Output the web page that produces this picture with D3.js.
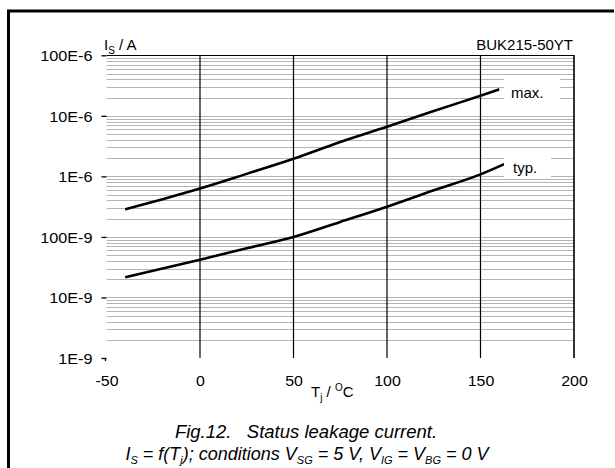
<!DOCTYPE html>
<html><head><meta charset="utf-8">
<script src="https://d3js.org/d3.v7.min.js"></script>
<style>body{margin:0;background:#fff}svg{display:block}text{font-family:"Liberation Sans",Arial,sans-serif}</style>
</head><body><svg id="c" width="615" height="468"></svg>
<script>
const xTicks = [-50, 0, 50, 100, 150, 200];
const yTicks = [1e-9, 1e-8, 1e-7, 1e-6, 1e-5, 1e-4];
const yTickLabels = ["1E-9", "10E-9", "100E-9", "1E-6", "10E-6", "100E-6"];
const maxT = [-40, -20, 0, 25, 50, 75, 100, 125, 150, 160];
const maxI = [2.85e-7, 4.2e-7, 6.3e-7, 1.1e-6, 1.95e-6, 3.7e-6, 6.6e-6, 1.2e-5, 2.15e-5, 2.74e-5];
const typT = [-40, -20, 0, 25, 50, 75, 100, 125, 150, 163];
const typI = [2.16e-8, 3.0e-8, 4.2e-8, 6.5e-8, 1.0e-7, 1.77e-7, 3.16e-7, 5.9e-7, 1.08e-6, 1.61e-6];
const seriesNames = ["max.", "typ."];

const FS = 14.5;
const svg = d3.select("#c");
const x = d3.scaleLinear().domain([-50, 200]).range([106.5, 574]);
const y = d3.scaleLog().domain([1e-9, 1e-4]).range([358, 55.3]);

// frame (left and top only)
svg.append("line").attr("x1", 8.5).attr("x2", 8.5).attr("y1", 10).attr("y2", 468).attr("stroke", "#000").attr("stroke-width", 3);
svg.append("line").attr("x1", 7).attr("x2", 614).attr("y1", 11).attr("y2", 11).attr("stroke", "#000").attr("stroke-width", 3);

// minor gray horizontal grid
const minor = [];
for (let e = -9; e < -4; e++) for (let m = 1; m <= 9; m++) { if (e === -9 && m === 1) continue; minor.push(m * Math.pow(10, e)); }
svg.append("g").selectAll("line").data(minor).join("line")
  .attr("x1", x(-50)).attr("x2", x(200))
  .attr("y1", d => Math.round(y(d)) + 0.5).attr("y2", d => Math.round(y(d)) + 0.5)
  .attr("stroke", "#b4b4b4").attr("stroke-width", 1);

// top border of plot
svg.append("line").attr("x1", x(-50)).attr("x2", x(200)).attr("y1", 55.5).attr("y2", 55.5).attr("stroke", "#000").attr("stroke-width", 1.2);

// vertical grid lines
svg.append("g").selectAll("line").data(xTicks.slice(1)).join("line")
  .attr("x1", d => x(d)).attr("x2", d => x(d)).attr("y1", 55).attr("y2", 358)
  .attr("stroke", "#000").attr("stroke-width", d => d === 200 ? 1.6 : 1.2);

// y axis ticks and labels
const yAxis = d3.axisLeft(y).tickValues(yTicks).tickSize(5).tickPadding(9)
  .tickFormat((d, i) => yTickLabels[i]);
const ga = svg.append("g").attr("transform", `translate(${x(-50)},0)`).call(yAxis);
ga.attr("font-size", null).attr("font-family", null);
ga.select(".domain").remove();
ga.selectAll(".tick line").attr("stroke", "#000").attr("stroke-width", 1.3);
ga.selectAll(".tick text").style("font-size", FS + "px").attr("fill", "#000").attr("dy", "0.36em")
  .attr("transform", "scale(1.12,1)").attr("x", -14 / 1.12);
// hook on 1E-9 tick
svg.append("line").attr("x1", x(-50) - 1).attr("x2", x(-50) - 1).attr("y1", 358).attr("y2", 361).attr("stroke", "#000").attr("stroke-width", 1.3);

// x tick labels
const xAxis = d3.axisBottom(x).tickValues(xTicks).tickSize(0).tickPadding(0).tickFormat(d => String(d));
const gx = svg.append("g").attr("transform", "translate(0,376)").call(xAxis);
gx.attr("font-size", null).attr("font-family", null);
gx.select(".domain").remove();
gx.selectAll(".tick text").style("font-size", FS + "px").attr("fill", "#000").attr("dy", "0.72em")
  .attr("transform", "scale(1.1,1)");

// axis titles
const xt = svg.append("text").attr("x", 311).attr("y", 397).style("font-size", "15px");
xt.append("tspan").text("T");
xt.append("tspan").style("font-size", "10px").attr("dy", 4).text("j");
xt.append("tspan").attr("dy", -4).text(" / ");
xt.append("tspan").style("font-size", "10px").attr("dy", -6).text("O");
xt.append("tspan").attr("dy", 6).text("C");

const yt = svg.append("text").attr("x", 104).attr("y", 50).style("font-size", "15px");
yt.append("tspan").text("I");
yt.append("tspan").style("font-size", "10px").attr("dy", 4).text("S");
yt.append("tspan").attr("dy", -4).text(" / A");

svg.append("text").attr("x", 573).attr("y", 50).attr("text-anchor", "end").style("font-size", "15px").text("BUK215-50YT");

// curves
const line = d3.line().x(d => x(d[0])).y(d => y(d[1])).curve(d3.curveMonotoneX);
const series = [d3.zip(maxT, maxI), d3.zip(typT, typI)];
svg.append("g").selectAll("path").data(series).join("path")
  .attr("d", line).attr("fill", "none").attr("stroke", "#000").attr("stroke-width", 2.6);

// labels with white background
const lab = [
  { t: seriesNames[0], bx: 504, by: 79, bw: 56, bh: 21, tx: 511, ty: 98 },
  { t: seriesNames[1], bx: 504, by: 158, bw: 47, bh: 19, tx: 513, ty: 173 }
];
lab.forEach(l => {
  svg.append("rect").attr("x", l.bx).attr("y", l.by).attr("width", l.bw).attr("height", l.bh).attr("fill", "#fff");
  svg.append("text").attr("x", l.tx).attr("y", l.ty).style("font-size", "15px").text(l.t);
});

// caption
svg.append("text").attr("x", 306).attr("y", 438).attr("text-anchor", "middle").style("font-size", "18.5px").attr("font-style", "italic").attr("xml:space", "preserve").text("Fig.12.   Status leakage current.");
const c2 = svg.append("text").attr("x", 307).attr("y", 460).attr("text-anchor", "middle").style("font-size", "18px").attr("font-style", "italic");
const parts = [["I", 0], ["S", 1], [" = f(T", 0], ["j", 1], ["); conditions V", 0], ["SG", 1], [" = 5 V, V", 0], ["IG", 1], [" = V", 0], ["BG", 1], [" = 0 V", 0]];
let prevSub = 0;
parts.forEach(([t, s]) => {
  const ts = c2.append("tspan").text(t).style("font-size", s ? "11px" : "18px");
  if (s !== prevSub) ts.attr("dy", s ? 4 : -4);
  prevSub = s;
});
</script></body></html>
